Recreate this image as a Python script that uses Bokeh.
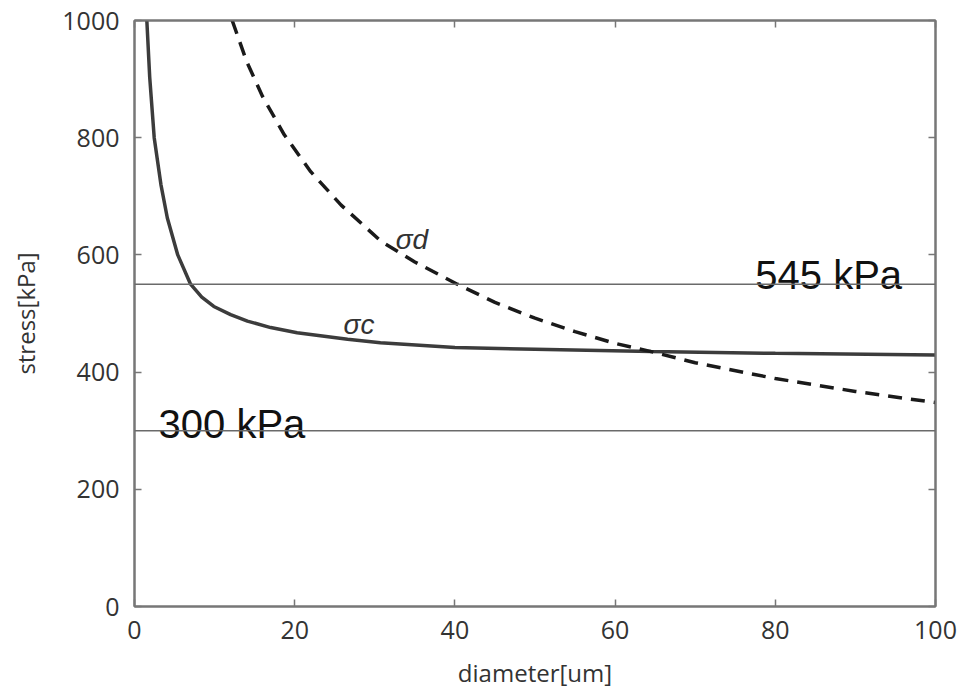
from bokeh.plotting import figure
from bokeh.models import Range1d, LinearAxis, Span, FixedTicker
from bokeh.core.properties import value
from bokeh.embed import file_html
from bokeh.resources import INLINE

# --- data ---
d_c = [1.54, 1.9, 2.46, 3.3, 4.1, 5.4, 7.0, 8.4, 9.9, 12.0, 14.1, 17.0, 20.3, 26.6, 30.7, 40.0, 50.0, 64.5, 80.0, 100.0]
sigma_c = [1000, 903, 800, 720, 663, 600, 550, 528, 512, 498, 487, 476, 467, 456, 450, 442, 439, 435, 432, 429]

d_d = [12.2, 14.0, 16.0, 18.7, 22.0, 25.8, 30.8, 35.0, 40.3, 45.0, 50.0, 55.0, 60.0, 64.5, 70.0, 80.0, 90.0, 100.0]
sigma_d = [1000, 930, 870, 805, 742, 685, 623, 588, 550, 519, 492, 469, 449, 435, 416, 389, 367, 348]

levels = [550, 300]
level_labels = ["545 kPa", "300 kPa"]
x_ticks = [0, 20, 40, 60, 80, 100]
y_ticks = [0, 200, 400, 600, 800, 1000]

# label anchors (data units)
level_label_x = [77.5, 3.0]
level_label_y = [566, 311]
curve_labels = ["σd", "σc"]
curve_label_x = [32.6, 26.1]
curve_label_y = [626, 481]

p = figure(width=960, height=692, output_backend="svg", toolbar_location=None,
           x_range=Range1d(0, 100), y_range=Range1d(0, 1000),
           min_border_left=134, min_border_right=25, min_border_top=20, min_border_bottom=86)
p.background_fill_color = "white"
p.border_fill_color = "white"
p.outline_line_color = "#777777"
p.outline_line_width = 2
p.xgrid.visible = False
p.ygrid.visible = False

for ax, ticks in ((p.xaxis[0], x_ticks), (p.yaxis[0], y_ticks)):
    ax.ticker = FixedTicker(ticks=ticks)
    ax.major_tick_in = 7
    ax.major_tick_out = 0
    ax.minor_tick_line_color = None
    ax.axis_line_color = "#777777"
    ax.axis_line_width = 2
    ax.major_tick_line_color = "#777777"
    ax.major_tick_line_width = 1.5
    ax.major_label_text_font = "Open Sans"
    ax.major_label_text_font_size = "25px"
    ax.major_label_text_color = "#333333"
    ax.axis_label_text_font = "Open Sans"
    ax.axis_label_text_font_size = "24px"
    ax.axis_label_text_font_style = "normal"
    ax.axis_label_text_color = "#333333"

p.xaxis.major_label_standoff = 14
p.yaxis.major_label_standoff = 15
p.xaxis.axis_label = "diameter[um]"
p.yaxis.axis_label = "stress[kPa]"
p.xaxis.axis_label_standoff = 14
p.yaxis.axis_label_standoff = 17

top = LinearAxis(ticker=FixedTicker(ticks=x_ticks))
right = LinearAxis(ticker=FixedTicker(ticks=y_ticks))
for ax in (top, right):
    ax.major_tick_in = 7
    ax.major_tick_out = 0
    ax.minor_tick_line_color = None
    ax.axis_line_color = "#777777"
    ax.axis_line_width = 2
    ax.major_tick_line_color = "#777777"
    ax.major_tick_line_width = 1.5
    ax.major_label_text_font_size = "0px"
    ax.major_label_text_alpha = 0
    ax.major_label_standoff = 0
p.add_layout(top, "above")
p.add_layout(right, "right")

for lv in levels:
    p.add_layout(Span(location=lv, dimension="width", line_color="#6a6a6a", line_width=1.6))

p.line(d_c, sigma_c, line_color="#3c3c3c", line_width=3.5)
p.line(d_d, sigma_d, line_color="#1a1a1a", line_width=3.5, line_dash="14 9")

p.text(x=level_label_x, y=level_label_y, text=level_labels, text_font=value("Liberation Sans"),
       text_font_size="40px", text_color="#111111", text_baseline="alphabetic", text_align="left")
p.text(x=curve_label_x, y=curve_label_y, text=curve_labels, text_font=value("Liberation Sans"),
       text_font_size="28px", text_font_style="italic", text_color="#333333",
       text_baseline="alphabetic", text_align="left")

open("out.html", "w").write(file_html(p, INLINE))
